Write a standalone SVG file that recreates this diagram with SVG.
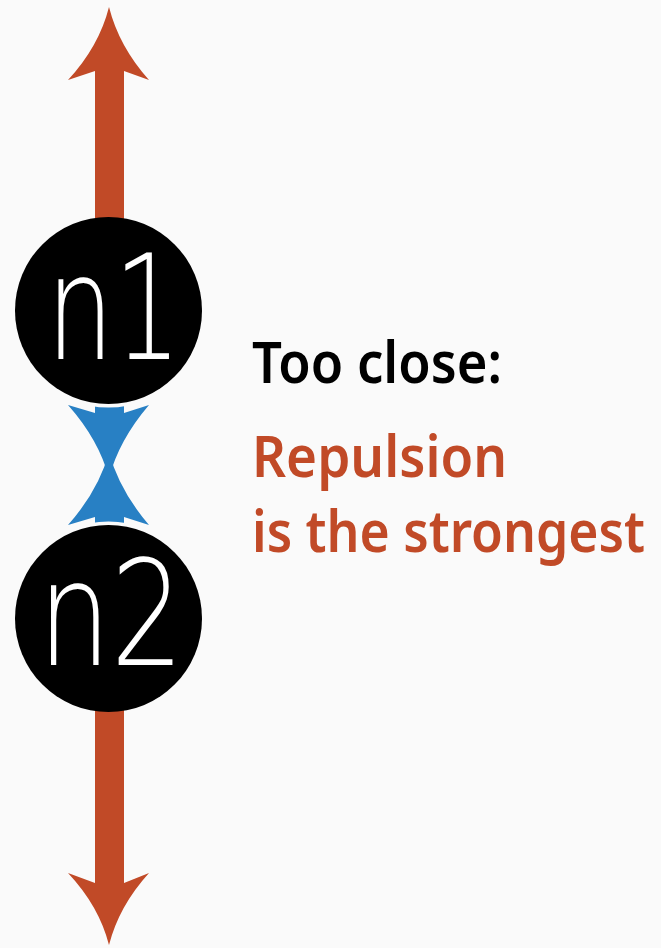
<svg xmlns="http://www.w3.org/2000/svg" width="661" height="948" viewBox="0 0 661 948">
  <style>
    .repel { fill: #C14A27; }
    .attract { fill: #2880C4; }
    .node circle { fill: #000; }
    .node text { fill: #fff; font-family: "DejaVu Sans", "Lato", sans-serif; font-weight: 200; font-size: 146px; text-anchor: middle; }
    .caption { font-family: "Noto Sans", "Open Sans", sans-serif; font-weight: 600; font-size: 58px; }
  </style>
  <defs>
    <!-- keeps a thin clear ring between the attraction heads and the nodes -->
    <mask id="node-gap" maskUnits="userSpaceOnUse" x="0" y="0" width="661" height="948">
      <rect width="661" height="948" fill="#fff"/>
      <circle cx="108.5" cy="310.5" r="97" fill="#000"/>
      <circle cx="108.5" cy="618.5" r="97" fill="#000"/>
    </mask>
  </defs>
  <rect width="661" height="948" fill="#FAFAFA"/>

  <g id="connectors">
    <!-- outward repulsion arrows -->
    <path class="repel" d="M109,7 Q119,46.5 149,80 L124,71 L124,222 L95,222 L95,71 L68,80 Q99,46.5 109,7 Z"/>
    <path class="repel" d="M109,945 Q119,906 149,873 L124,883 L124,706 L95,706 L95,883 L68,873 Q99,906 109,945 Z"/>
    <!-- inward attraction arrows, heads overlapping between the nodes -->
    <g mask="url(#node-gap)">
      <path class="attract" d="M109,478 Q99,440 68,405 L95,413 L95,395 L124,395 L124,413 L149,405 Q119,440 109,478 Z"/>
      <path class="attract" d="M109,452 Q99,490 68,525 L95,517 L95,535 L124,535 L124,517 L149,525 Q119,490 109,452 Z"/>
    </g>
  </g>

  <g id="n1" class="node">
    <circle cx="108.5" cy="310.5" r="93.5"/>
    <text x="114" y="359" textLength="135" lengthAdjust="spacingAndGlyphs">n1</text>
  </g>
  <g id="n2" class="node">
    <circle cx="108.5" cy="618.5" r="93.5"/>
    <text x="111" y="665" textLength="146" lengthAdjust="spacingAndGlyphs">n2</text>
  </g>

  <g id="label">
    <text class="caption" x="252" y="383" fill="#000" textLength="250" lengthAdjust="spacingAndGlyphs">Too close:</text>
    <text class="caption" x="252" y="477" fill="#C14A27" textLength="255" lengthAdjust="spacingAndGlyphs">Repulsion</text>
    <text class="caption" x="252" y="552" fill="#C14A27" textLength="393" lengthAdjust="spacingAndGlyphs">is the strongest</text>
  </g>
</svg>
